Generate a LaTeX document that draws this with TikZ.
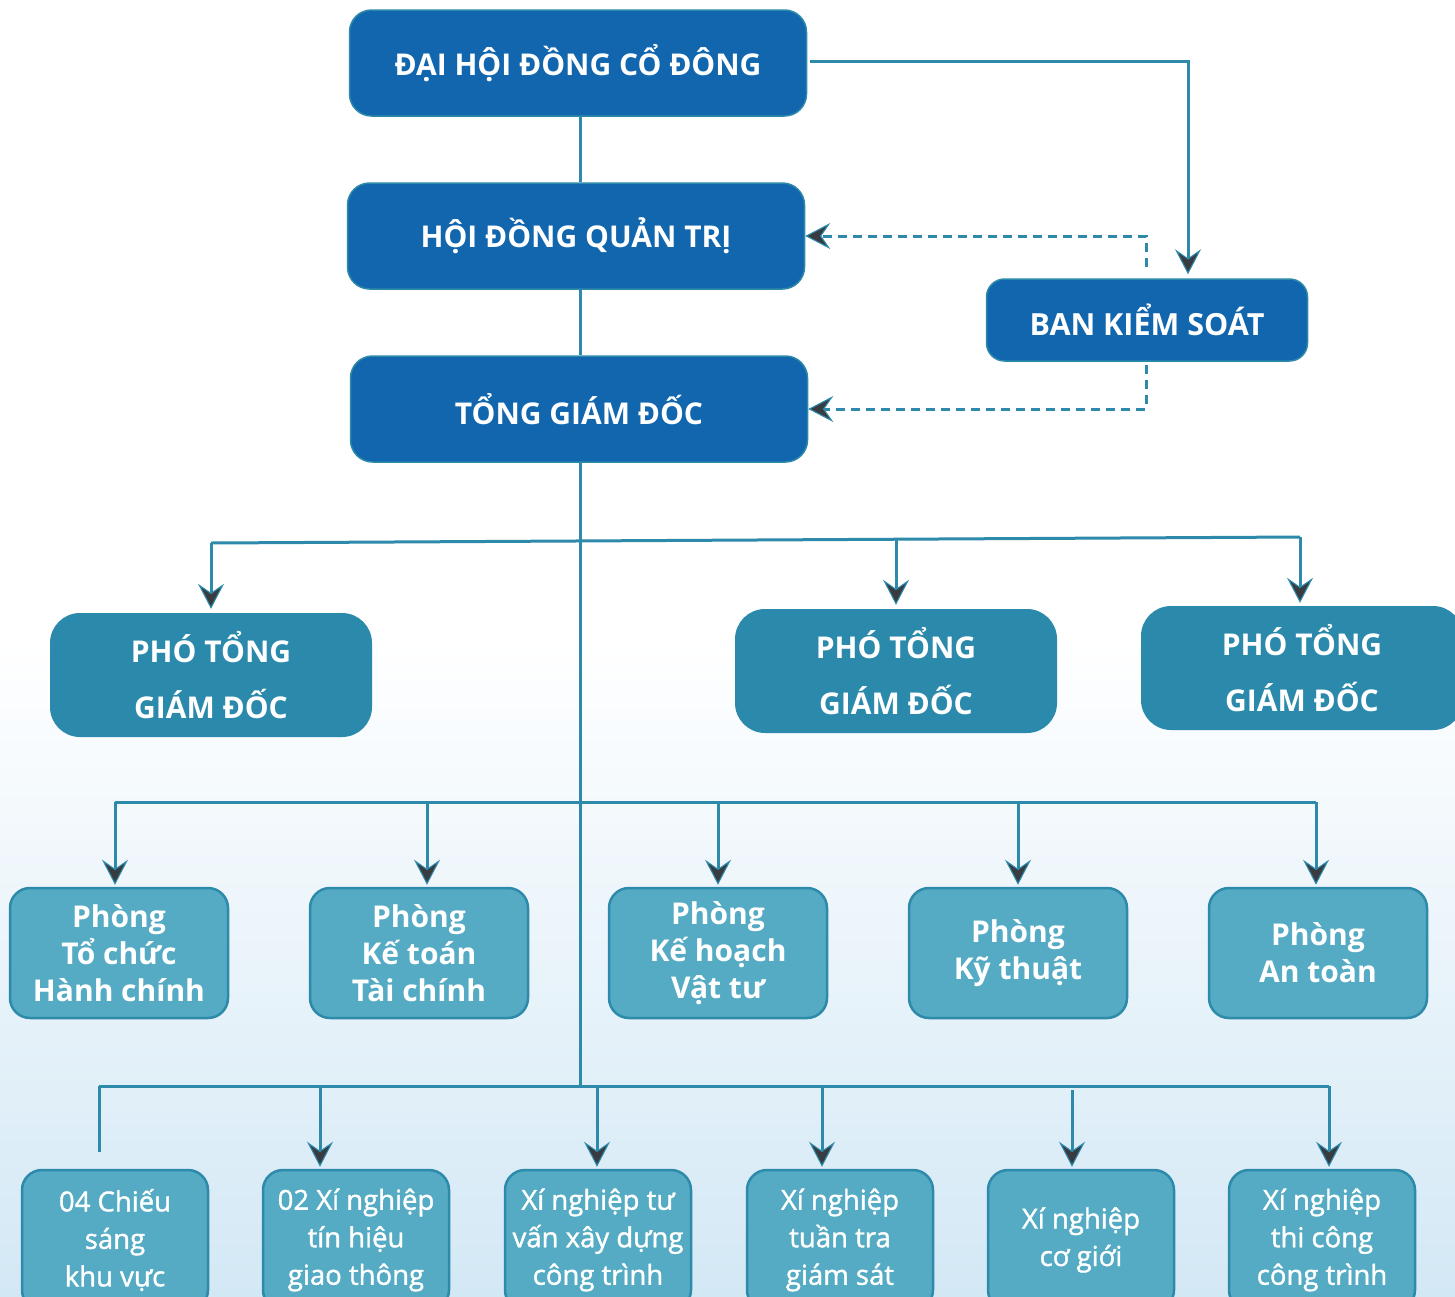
\documentclass[tikz,border=0pt]{standalone}
\usepackage{fontspec}
\setmainfont{Open Sans}
\newfontfamily\medfont{Open Sans}[FakeBold=1.4]
\usetikzlibrary{arrows.meta}
\definecolor{dblue}{HTML}{1166AE}
\definecolor{tealbox}{HTML}{2B8AAB}
\definecolor{lblue}{HTML}{54ABC3}
\definecolor{lineteal}{HTML}{2E8AAA}
\definecolor{agray}{HTML}{383C40}
\definecolor{sky}{HTML}{D3E8F5}
\begin{document}
\begin{tikzpicture}[x=1pt,y=-1pt,
  topbox/.style={draw=lineteal, line width=1.5pt, fill=dblue, rounded corners=22pt,
    minimum width=457pt, minimum height=106pt, text=white, inner sep=0pt,
    font=\fontsize{30}{34}\selectfont\bfseries},
  bksbox/.style={topbox, minimum width=321pt, minimum height=82pt, rounded corners=18pt,
    font=\fontsize{30.5}{34}\selectfont\bfseries},
  ptbox/.style={fill=tealbox, rounded corners=30pt, minimum width=322pt, minimum height=124pt,
    text=white, inner sep=0pt, align=center, font=\fontsize{30}{56}\selectfont\bfseries},
  phbox/.style={draw=lineteal, line width=2.5pt, fill=lblue, rounded corners=20pt,
    minimum width=218pt, minimum height=130pt, text=white, inner sep=0pt, align=center,
    font=\fontsize{30}{37}\selectfont\bfseries},
  xnbox/.style={phbox, minimum width=186pt, minimum height=140pt,
    font=\medfont\fontsize{27.5}{37.5}\selectfont},
  conn/.style={draw=lineteal, line width=3pt},
  tip/.style={-{Stealth[length=25pt, width=26pt, inset=9pt, fill=agray, line width=1.1pt]}},
  arr/.style={conn, tip},
  darr/.style={draw=lineteal, line width=3pt, dash pattern=on 9pt off 6pt, tip}
]
\clip (0,0) rectangle (1455,1296);
\useasboundingbox (0,0) rectangle (1455,1296);
\fill[white] (0,0) rectangle (1455,1296);
\shade[top color=white, bottom color=sky] (0,640) rectangle (1455,1296);

% top level
\node[topbox] (dh) at (578,63) {ĐẠI HỘI ĐỒNG CỔ ĐÔNG};
\node[topbox] (hd) at (576,236) {HỘI ĐỒNG QUẢN TRỊ};
\node[topbox] (tg) at (579,409) {TỔNG GIÁM ĐỐC};
\node[bksbox] (bks) at (1147,320) {BAN KIỂM SOÁT};

% deputy directors
\node[ptbox] (p1) at (211,675) {PHÓ TỔNG\\GIÁM ĐỐC};
\node[ptbox] (p2) at (896,671) {PHÓ TỔNG\\GIÁM ĐỐC};
\node[ptbox] (p3) at (1302,668) {PHÓ TỔNG\\GIÁM ĐỐC};

% departments
\node[phbox] (d1) at (119,953) {Phòng\\Tổ chức\\Hành chính};
\node[phbox] (d2) at (419,953) {Phòng\\Kế toán\\Tài chính};
\node[phbox] (d3) at (718,953) {Phòng\\Kế hoạch\\Vật tư};
\node[phbox] (d4) at (1018,953) {Phòng\\Kỹ thuật};
\node[phbox] (d5) at (1318,953) {Phòng\\An toàn};

% enterprises
\node[xnbox] (x1) at (115,1240) {04 Chiếu\\sáng\\khu vực};
\node[xnbox] (x2) at (356,1240) {02 Xí nghiệp\\tín hiệu\\giao thông};
\node[xnbox] (x3) at (598,1240) {Xí nghiệp tư\\vấn xây dựng\\công trình};
\node[xnbox] (x4) at (840,1240) {Xí nghiệp\\tuần tra\\giám sát};
\node[xnbox] (x5) at (1081,1240) {Xí nghiệp\\cơ giới};
\node[xnbox] (x6) at (1322,1240) {Xí nghiệp\\thi công\\công trình};

% bus coordinates
\coordinate (b1l) at (211,543);
\coordinate (b1r) at (1300,537);
\coordinate (b2l) at (115,802);
\coordinate (b2r) at (1316,802);
\coordinate (b3l) at (99,1086);
\coordinate (b3r) at (1329,1086);
\coordinate (spine) at (580,1086);
\coordinate (x1stub) at (99,1152);

% main spine
\draw[conn] (dh.south -| 580,0) -- (hd.north -| 580,0);
\draw[conn] (hd.south -| 580,0) -- (tg.north -| 580,0);
\draw[conn] (tg.south -| 580,0) -- (spine);

% shareholders -> supervisory board
\draw[arr, shorten >=4pt] ([xshift=3pt,yshift=2pt]dh.east) -| ([xshift=41pt]bks.north);
% supervisory board dashed
\draw[darr] ([yshift=11pt]bks.north -| 1146,0) |- (hd.east);
\draw[darr] ([yshift=-3pt]bks.south -| 1146,0) |- (tg.east);

% bus 1
\draw[conn] (b1l) -- (b1r);
\draw[arr, shorten >=4pt] (b1l) -- (p1.north);
\draw[arr, shorten >=4pt] (896,539) -- (p2.north);
\draw[arr, shorten >=3pt] (b1r) -- (p3.north -| b1r);

% bus 2
\draw[conn] (b2l) -- (b2r);
\draw[arr, shorten >=2pt] (b2l) -- (d1.north -| b2l);
\draw[arr, shorten >=2pt] (427,802) -- (d2.north -| 427,0);
\draw[arr, shorten >=2pt] (718,802) -- (d3.north);
\draw[arr, shorten >=2pt] (1018,802) -- (d4.north);
\draw[arr, shorten >=2pt] (b2r) -- (d5.north -| b2r);

% bus 3
\draw[conn] (b3l) -- (b3r);
\draw[conn] (b3l) -- (x1stub);
\draw[arr, shorten >=2pt] (320,1086) -- (x2.north -| 320,0);
\draw[arr, shorten >=2pt] (597,1086) -- (x3.north -| 597,0);
\draw[arr, shorten >=2pt] (822,1086) -- (x4.north -| 822,0);
\draw[arr, shorten >=2pt] (1072,1090) -- (x5.north -| 1072,0);
\draw[arr, shorten >=2pt] (b3r) -- (x6.north -| b3r);
\end{tikzpicture}
\end{document}
